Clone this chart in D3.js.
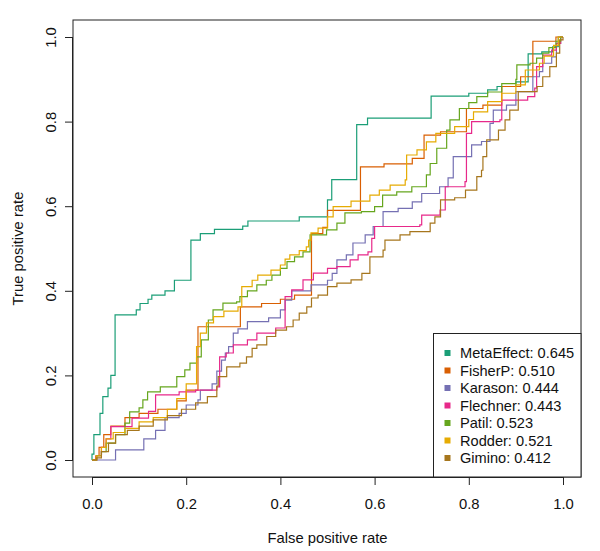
<!DOCTYPE html>
<html><head><meta charset="utf-8">
<script src="https://cdn.jsdelivr.net/npm/d3@7"></script>
<style>body{margin:0;background:#fff}svg{display:block}</style>
</head><body>
<svg id="chart" width="600" height="551"></svg>
<script>
const tickValues = [0, 0.2, 0.4, 0.6, 0.8, 1.0];
const tickLabels = ["0.0", "0.2", "0.4", "0.6", "0.8", "1.0"];
const methods = ["MetaEffect", "FisherP", "Karason", "Flechner", "Patil", "Rodder", "Gimino"];
const aucs = ["0.645", "0.510", "0.444", "0.443", "0.523", "0.521", "0.412"];
const colors = ["#1B9E77", "#D95F02", "#7570B3", "#E7298A", "#66A61E", "#E6AB02", "#A6761D"];

const metaEffect = [[0,0],[0,0.014],[0.004,0.014],[0.004,0.06],[0.017,0.06],[0.017,0.11],[0.023,0.11],[0.023,0.15],[0.034,0.15],[0.034,0.17],[0.04,0.17],[0.04,0.20],[0.049,0.20],[0.049,0.343],[0.094,0.343],[0.094,0.355],[0.102,0.355],[0.102,0.37],[0.119,0.37],[0.119,0.38],[0.127,0.38],[0.127,0.39],[0.155,0.39],[0.155,0.40],[0.175,0.40],[0.175,0.425],[0.21,0.425],[0.21,0.52],[0.23,0.52],[0.23,0.535],[0.26,0.535],[0.26,0.545],[0.32,0.545],[0.32,0.553],[0.331,0.553],[0.331,0.565],[0.44,0.565],[0.44,0.575],[0.5,0.575],[0.5,0.615],[0.509,0.615],[0.509,0.663],[0.562,0.663],[0.562,0.793],[0.585,0.793],[0.585,0.808],[0.72,0.808],[0.72,0.86],[0.8,0.86],[0.8,0.867],[0.84,0.867],[0.84,0.875],[0.86,0.875],[0.86,0.883],[0.9,0.883],[0.9,0.894],[0.926,0.894],[0.926,0.96],[0.955,0.96],[0.955,0.965],[0.978,0.965],[0.978,0.977],[0.99,0.977],[0.99,1],[1,1]];
const fisherP = [[0,0],[0.008,0],[0.008,0.01],[0.015,0.01],[0.015,0.03],[0.025,0.03],[0.025,0.06],[0.04,0.06],[0.04,0.08],[0.07,0.08],[0.07,0.1],[0.1,0.1],[0.1,0.11],[0.14,0.11],[0.14,0.12],[0.18,0.12],[0.18,0.14],[0.2,0.14],[0.2,0.165],[0.225,0.165],[0.225,0.315],[0.315,0.315],[0.315,0.362],[0.36,0.362],[0.36,0.37],[0.4,0.37],[0.4,0.38],[0.43,0.38],[0.43,0.39],[0.466,0.39],[0.466,0.535],[0.49,0.535],[0.49,0.55],[0.5,0.55],[0.5,0.59],[0.57,0.59],[0.57,0.693],[0.62,0.693],[0.62,0.70],[0.68,0.70],[0.68,0.713],[0.705,0.713],[0.705,0.768],[0.74,0.768],[0.74,0.776],[0.795,0.776],[0.795,0.831],[0.83,0.831],[0.83,0.839],[0.87,0.839],[0.87,0.883],[0.91,0.883],[0.91,0.906],[0.936,0.906],[0.936,0.99],[0.985,0.99],[0.985,1],[1,1]];
const karason = [[0,0],[0.05,0],[0.05,0.024],[0.11,0.024],[0.11,0.05],[0.135,0.05],[0.135,0.07],[0.155,0.07],[0.155,0.1],[0.185,0.1],[0.185,0.11],[0.2,0.11],[0.2,0.13],[0.225,0.13],[0.225,0.142],[0.23,0.142],[0.23,0.165],[0.255,0.165],[0.255,0.18],[0.265,0.18],[0.265,0.21],[0.275,0.21],[0.275,0.236],[0.283,0.236],[0.283,0.253],[0.29,0.253],[0.29,0.268],[0.3,0.268],[0.3,0.30],[0.31,0.30],[0.31,0.31],[0.33,0.31],[0.33,0.327],[0.375,0.327],[0.375,0.336],[0.4,0.336],[0.4,0.355],[0.41,0.355],[0.41,0.378],[0.424,0.378],[0.424,0.40],[0.465,0.40],[0.465,0.414],[0.5,0.414],[0.5,0.425],[0.51,0.425],[0.51,0.441],[0.52,0.441],[0.52,0.473],[0.54,0.473],[0.54,0.485],[0.554,0.485],[0.554,0.513],[0.58,0.513],[0.58,0.532],[0.597,0.532],[0.597,0.552],[0.618,0.552],[0.618,0.587],[0.65,0.587],[0.65,0.595],[0.68,0.595],[0.68,0.61],[0.7,0.61],[0.7,0.63],[0.738,0.63],[0.738,0.646],[0.756,0.646],[0.756,0.667],[0.767,0.667],[0.767,0.717],[0.806,0.717],[0.806,0.745],[0.827,0.745],[0.827,0.753],[0.845,0.753],[0.845,0.796],[0.852,0.796],[0.852,0.827],[0.88,0.827],[0.88,0.839],[0.9,0.839],[0.9,0.871],[0.936,0.871],[0.936,0.906],[0.95,0.906],[0.95,0.918],[0.957,0.918],[0.957,0.938],[0.976,0.938],[0.976,0.953],[0.986,0.953],[0.986,0.985],[0.995,0.985],[0.995,1],[1,1]];
const flechner = [[0,0],[0.01,0],[0.01,0.01],[0.02,0.01],[0.02,0.03],[0.03,0.03],[0.03,0.05],[0.04,0.05],[0.04,0.079],[0.085,0.079],[0.085,0.099],[0.12,0.099],[0.12,0.115],[0.135,0.115],[0.135,0.154],[0.185,0.154],[0.185,0.161],[0.22,0.161],[0.22,0.165],[0.265,0.165],[0.265,0.173],[0.271,0.173],[0.271,0.244],[0.285,0.244],[0.285,0.253],[0.3,0.253],[0.3,0.272],[0.33,0.272],[0.33,0.284],[0.35,0.284],[0.35,0.30],[0.39,0.30],[0.39,0.312],[0.41,0.312],[0.41,0.386],[0.424,0.386],[0.424,0.402],[0.448,0.402],[0.448,0.426],[0.47,0.426],[0.47,0.442],[0.5,0.442],[0.5,0.453],[0.52,0.453],[0.52,0.457],[0.548,0.457],[0.548,0.473],[0.565,0.473],[0.565,0.485],[0.586,0.485],[0.586,0.492],[0.594,0.492],[0.594,0.524],[0.6,0.524],[0.6,0.552],[0.696,0.552],[0.696,0.556],[0.7,0.556],[0.7,0.579],[0.739,0.579],[0.739,0.591],[0.75,0.591],[0.75,0.646],[0.792,0.646],[0.792,0.658],[0.795,0.658],[0.795,0.772],[0.806,0.772],[0.806,0.80],[0.866,0.80],[0.866,0.804],[0.87,0.804],[0.87,0.851],[0.925,0.851],[0.925,0.859],[0.94,0.859],[0.94,0.879],[0.944,0.879],[0.944,0.93],[0.957,0.93],[0.957,0.957],[0.976,0.957],[0.976,0.969],[0.986,0.969],[0.986,0.985],[0.995,0.985],[0.995,1],[1,1]];
const patil = [[0,0],[0.01,0],[0.01,0.01],[0.02,0.01],[0.02,0.02],[0.03,0.02],[0.03,0.04],[0.05,0.04],[0.05,0.06],[0.07,0.06],[0.07,0.087],[0.08,0.087],[0.08,0.114],[0.1,0.114],[0.1,0.123],[0.108,0.123],[0.108,0.142],[0.118,0.142],[0.118,0.161],[0.145,0.161],[0.145,0.173],[0.18,0.173],[0.18,0.197],[0.197,0.197],[0.197,0.213],[0.208,0.213],[0.208,0.229],[0.222,0.229],[0.222,0.244],[0.232,0.244],[0.232,0.284],[0.247,0.284],[0.247,0.331],[0.257,0.331],[0.257,0.355],[0.278,0.355],[0.278,0.371],[0.307,0.371],[0.307,0.374],[0.314,0.374],[0.314,0.386],[0.33,0.386],[0.33,0.40],[0.35,0.40],[0.35,0.414],[0.37,0.414],[0.37,0.425],[0.382,0.425],[0.382,0.437],[0.4,0.437],[0.4,0.453],[0.414,0.453],[0.414,0.469],[0.43,0.469],[0.43,0.48],[0.448,0.48],[0.448,0.492],[0.463,0.492],[0.463,0.532],[0.498,0.532],[0.498,0.544],[0.52,0.544],[0.52,0.56],[0.537,0.56],[0.537,0.584],[0.572,0.584],[0.572,0.587],[0.6,0.587],[0.6,0.599],[0.617,0.599],[0.617,0.626],[0.647,0.626],[0.647,0.634],[0.679,0.634],[0.679,0.646],[0.71,0.646],[0.71,0.674],[0.718,0.674],[0.718,0.701],[0.732,0.701],[0.732,0.737],[0.753,0.737],[0.753,0.78],[0.76,0.78],[0.76,0.804],[0.78,0.804],[0.78,0.831],[0.8,0.831],[0.8,0.845],[0.817,0.845],[0.817,0.859],[0.84,0.859],[0.84,0.87],[0.87,0.87],[0.87,0.89],[0.9,0.89],[0.9,0.9],[0.902,0.9],[0.902,0.934],[0.93,0.934],[0.93,0.938],[0.944,0.938],[0.944,0.95],[0.957,0.95],[0.957,0.962],[0.97,0.962],[0.97,0.975],[0.985,0.975],[0.985,0.99],[0.995,0.99],[0.995,1],[1,1]];
const rodder = [[0,0],[0.01,0],[0.01,0.01],[0.02,0.01],[0.02,0.03],[0.03,0.03],[0.03,0.05],[0.045,0.05],[0.045,0.065],[0.07,0.065],[0.07,0.075],[0.1,0.075],[0.1,0.09],[0.13,0.09],[0.13,0.1],[0.16,0.1],[0.16,0.12],[0.18,0.12],[0.18,0.145],[0.2,0.145],[0.2,0.18],[0.222,0.18],[0.222,0.268],[0.23,0.268],[0.23,0.30],[0.243,0.30],[0.243,0.324],[0.258,0.324],[0.258,0.339],[0.28,0.339],[0.28,0.352],[0.31,0.352],[0.31,0.362],[0.318,0.362],[0.318,0.41],[0.34,0.41],[0.34,0.425],[0.352,0.425],[0.352,0.437],[0.38,0.437],[0.38,0.449],[0.4,0.449],[0.4,0.461],[0.41,0.461],[0.41,0.475],[0.42,0.475],[0.42,0.485],[0.44,0.485],[0.44,0.495],[0.455,0.495],[0.455,0.504],[0.46,0.504],[0.46,0.52],[0.465,0.52],[0.465,0.537],[0.48,0.537],[0.48,0.548],[0.5,0.548],[0.5,0.575],[0.512,0.575],[0.512,0.599],[0.55,0.599],[0.55,0.612],[0.59,0.612],[0.59,0.626],[0.61,0.626],[0.61,0.638],[0.633,0.638],[0.633,0.65],[0.665,0.65],[0.665,0.662],[0.668,0.662],[0.668,0.721],[0.69,0.721],[0.69,0.733],[0.71,0.733],[0.71,0.752],[0.73,0.752],[0.73,0.772],[0.77,0.772],[0.77,0.788],[0.8,0.788],[0.8,0.805],[0.81,0.805],[0.81,0.823],[0.84,0.823],[0.84,0.847],[0.87,0.847],[0.87,0.867],[0.9,0.867],[0.9,0.887],[0.92,0.887],[0.92,0.922],[0.95,0.922],[0.95,0.938],[0.96,0.938],[0.96,0.955],[0.98,0.955],[0.98,0.98],[0.99,0.98],[0.99,1],[1,1]];
const gimino = [[0,0],[0.01,0],[0.01,0.005],[0.02,0.005],[0.02,0.02],[0.035,0.02],[0.035,0.04],[0.05,0.04],[0.05,0.06],[0.075,0.06],[0.075,0.07],[0.1,0.07],[0.1,0.08],[0.13,0.08],[0.13,0.095],[0.16,0.095],[0.16,0.105],[0.19,0.105],[0.19,0.12],[0.22,0.12],[0.22,0.135],[0.245,0.135],[0.245,0.15],[0.265,0.15],[0.265,0.175],[0.268,0.175],[0.268,0.197],[0.286,0.197],[0.286,0.22],[0.314,0.22],[0.314,0.229],[0.328,0.229],[0.328,0.244],[0.34,0.244],[0.34,0.264],[0.35,0.264],[0.35,0.272],[0.371,0.272],[0.371,0.292],[0.39,0.292],[0.39,0.307],[0.413,0.307],[0.413,0.315],[0.427,0.315],[0.427,0.331],[0.44,0.331],[0.44,0.347],[0.456,0.347],[0.456,0.362],[0.466,0.362],[0.466,0.383],[0.48,0.383],[0.48,0.39],[0.5,0.39],[0.5,0.41],[0.52,0.41],[0.52,0.418],[0.55,0.418],[0.55,0.426],[0.573,0.426],[0.573,0.441],[0.59,0.441],[0.59,0.48],[0.618,0.48],[0.618,0.496],[0.622,0.496],[0.622,0.52],[0.654,0.52],[0.654,0.532],[0.675,0.532],[0.675,0.54],[0.718,0.54],[0.718,0.56],[0.728,0.56],[0.728,0.575],[0.74,0.575],[0.74,0.615],[0.77,0.615],[0.77,0.62],[0.793,0.62],[0.793,0.638],[0.817,0.638],[0.817,0.67],[0.827,0.67],[0.827,0.685],[0.83,0.685],[0.83,0.717],[0.838,0.717],[0.838,0.757],[0.863,0.757],[0.863,0.78],[0.877,0.78],[0.877,0.804],[0.887,0.804],[0.887,0.827],[0.905,0.827],[0.905,0.871],[0.945,0.871],[0.945,0.883],[0.957,0.883],[0.957,0.906],[0.972,0.906],[0.972,0.93],[0.986,0.93],[0.986,0.962],[0.993,0.962],[0.993,0.993],[1,0.993],[1,1]];
const curves = [metaEffect, fisherP, karason, flechner, patil, rodder, gimino];

const svg = d3.select("#chart");
const font = "'Liberation Sans', Arial, Helvetica, sans-serif";
const axisFont = 14.8, legendFont = 14.6;
const x = d3.scaleLinear().domain([0, 1]).range([92, 563]);
const y = d3.scaleLinear().domain([0, 1]).range([460, 37]);
const xLo = x.invert(73), xHi = x.invert(581), yLo = y.invert(477), yHi = y.invert(20);

// curves
const line = d3.line().x(d => x(d[0])).y(d => y(d[1]));
curves.forEach((c, i) => {
  svg.append("path").attr("d", line(c)).attr("fill", "none")
    .attr("stroke", colors[i]).attr("stroke-width", 1.2).attr("stroke-linejoin", "miter");
});

// box
svg.append("rect").attr("x", x(xLo)).attr("y", y(yHi))
  .attr("width", x(xHi) - x(xLo)).attr("height", y(yLo) - y(yHi))
  .attr("fill", "none").attr("stroke", "#222").attr("stroke-width", 1);

// x axis
const xAxis = d3.axisBottom(x).tickValues(tickValues).tickFormat((d, i) => tickLabels[i]).tickSize(8).tickPadding(13);
const gx = svg.append("g").attr("transform", `translate(0,${y(yLo)})`).call(xAxis);
gx.select(".domain").attr("d", `M${x(0)},0.5H${x(1)}`).attr("stroke", "#222");
gx.selectAll(".tick line").attr("stroke", "#222");
gx.selectAll("text").attr("font-family", font).attr("font-size", axisFont).attr("fill", "#111");

// y axis
const yAxis = d3.axisLeft(y).tickValues(tickValues).tickFormat((d, i) => tickLabels[i]).tickSize(8).tickPadding(0);
const gy = svg.append("g").attr("transform", `translate(${x(xLo)},0)`).call(yAxis);
gy.select(".domain").attr("d", `M-0.5,${y(0)}V${y(1)}`).attr("stroke", "#222");
gy.selectAll(".tick line").attr("stroke", "#222");
gy.selectAll("text").attr("font-family", font).attr("font-size", axisFont).attr("fill", "#111")
  .attr("x", null).attr("dy", null).attr("text-anchor", "middle")
  .attr("transform", "translate(-17.5,0) rotate(-90)");

// titles
svg.append("text").attr("x", (x(0) + x(1)) / 2).attr("y", 543).attr("text-anchor", "middle")
  .attr("font-family", font).attr("font-size", axisFont).attr("fill", "#111").text("False positive rate");
svg.append("text").attr("transform", `translate(23,${(y(0) + y(1)) / 2}) rotate(-90)`).attr("text-anchor", "middle")
  .attr("font-family", font).attr("font-size", axisFont).attr("fill", "#111").text("True positive rate");

// legend
const lg = svg.append("g");
lg.append("rect").attr("x", 433.5).attr("y", 333.5).attr("width", x(xHi) - 433.5).attr("height", y(yLo) - 333.5)
  .attr("fill", "#fff").attr("stroke", "#222").attr("stroke-width", 1);
methods.forEach((m, i) => {
  const cy = 353 + i * 17.5;
  lg.append("rect").attr("x", 444.5).attr("y", cy - 3).attr("width", 6).attr("height", 6).attr("fill", colors[i]);
  lg.append("text").attr("x", 460).attr("y", cy).attr("dy", "0.36em")
    .attr("font-family", font).attr("font-size", legendFont).attr("fill", "#111").text(`${m}: ${aucs[i]}`);
});
</script>
</body></html>
